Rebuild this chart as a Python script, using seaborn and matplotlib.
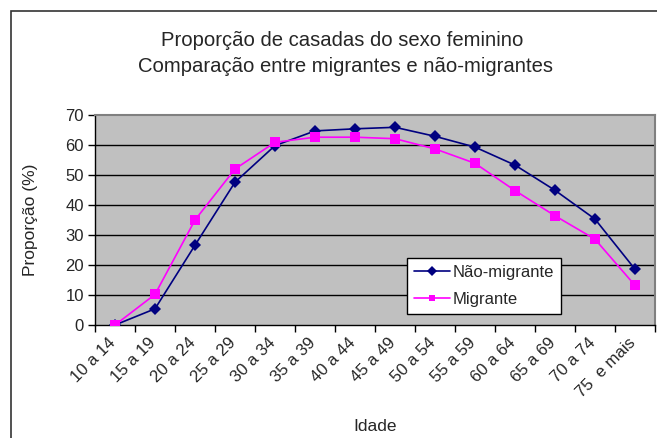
import numpy as np
import pandas as pd
import matplotlib
matplotlib.use("Agg")
import matplotlib.pyplot as plt
import seaborn as sns
from matplotlib.patches import Rectangle
from matplotlib.transforms import ScaledTranslation


# =====================================
# DATA
# =====================================

faixas = [
    "10 a 14", "15 a 19", "20 a 24", "25 a 29", "30 a 34",
    "35 a 39", "40 a 44", "45 a 49", "50 a 54", "55 a 59",
    "60 a 64", "65 a 69", "70 a 74", "75  e mais"
]

nao_migrante = [
    0.0, 5.4, 26.6, 47.6, 59.8, 64.7, 65.4,
    65.9, 62.9, 59.3, 53.3, 44.9, 35.3, 18.6
]

migrante = [
    0.0, 10.2, 35.0, 52.0, 60.9, 62.6, 62.6,
    62.1, 58.7, 53.9, 44.8, 36.4, 28.6, 13.2
]

series_names = ["Não-migrante", "Migrante"]

df = pd.DataFrame({
    "Idade": faixas * 2,
    "valor": nao_migrante + migrante,
    "serie": [series_names[0]] * len(faixas) + [series_names[1]] * len(faixas),
})


# =====================================
# PLOT
# =====================================

sns.set_style("white")
plt.rcParams["font.family"] = ["Liberation Sans", "DejaVu Sans"]

fig = plt.figure(figsize=(6.57, 4.38), dpi=100)
ax = fig.add_axes([95 / 657, 113 / 438, 560 / 657, 210 / 438])

ax.set_facecolor("#C0C0C0")

# horizontal gridlines
for yv in range(10, 70, 10):
    ax.axhline(yv, color="black", lw=1, zorder=0)

sns.lineplot(
    data=df,
    x="Idade",
    y="valor",
    hue="serie",
    style="serie",
    markers={"Não-migrante": "D", "Migrante": "s"},
    dashes=False,
    palette={"Não-migrante": "#000080", "Migrante": "#FF00FF"},
    markersize=6.5,
    markeredgewidth=0,
    linewidth=1.2,
    ax=ax,
    zorder=3,
)

ax.set_xlim(-0.5, len(faixas) - 0.5)
ax.set_ylim(0, 70)

ax.set_yticks(range(0, 80, 10))
ax.tick_params(axis="y", length=5, width=1, color="black", labelsize=12, pad=3, left=True)

ax.set_xticks(range(len(faixas)))
ax.set_xticklabels(faixas, rotation=45, ha="right", va="top", rotation_mode="anchor")
ax.set_xticks(np.arange(-0.5, len(faixas), 1.0), minor=True)
ax.tick_params(axis="x", which="major", length=0, labelsize=12, pad=7)
ax.tick_params(axis="x", which="minor", length=5, width=1, color="black", bottom=True)

# nudge the rotated labels slightly left, as in the original
shift = ScaledTranslation(-7 / 100, 0, fig.dpi_scale_trans)
for lbl in ax.get_xticklabels():
    lbl.set_transform(lbl.get_transform() + shift)

for side in ["left", "bottom"]:
    ax.spines[side].set_color("black")
    ax.spines[side].set_linewidth(1)
for side in ["top", "right"]:
    ax.spines[side].set_visible(True)
    ax.spines[side].set_color("#808080")
    ax.spines[side].set_linewidth(1.5)

ax.set_xlabel("Idade", fontsize=12.5)
ax.set_ylabel("Proporção (%)", fontsize=12.5)
ax.xaxis.set_label_coords(0.5, -0.448)
ax.yaxis.set_label_coords(-0.102, 0.5)

leg = ax.legend(
    title=None,
    loc="upper left",
    bbox_to_anchor=(312 / 560, 67 / 210),
    frameon=True,
    fancybox=False,
    edgecolor="black",
    framealpha=1,
    fontsize=12,
    handlelength=2.2,
    handletextpad=0.15,
    borderpad=0.4,
    labelspacing=0.75,
    borderaxespad=0,
)
leg.get_frame().set_linewidth(1)
for h in leg.legend_handles:
    h.set_markersize(5)

fig.text(342 / 657, 1 - 40 / 438, "Proporção de casadas do sexo feminino",
         ha="center", va="center", fontsize=14.6)
fig.text(345 / 657, 1 - 66 / 438, "Comparação entre migrantes e não-migrantes",
         ha="center", va="center", fontsize=14.6)

# outer chart frame
fig.patches.append(Rectangle(
    (11 / 657, -0.1), 1.2, 1 - 11 / 438 + 0.1,
    transform=fig.transFigure, fill=False, edgecolor="#333333", lw=1.2
))

plt.savefig("out.png", dpi=100)
plt.close()
